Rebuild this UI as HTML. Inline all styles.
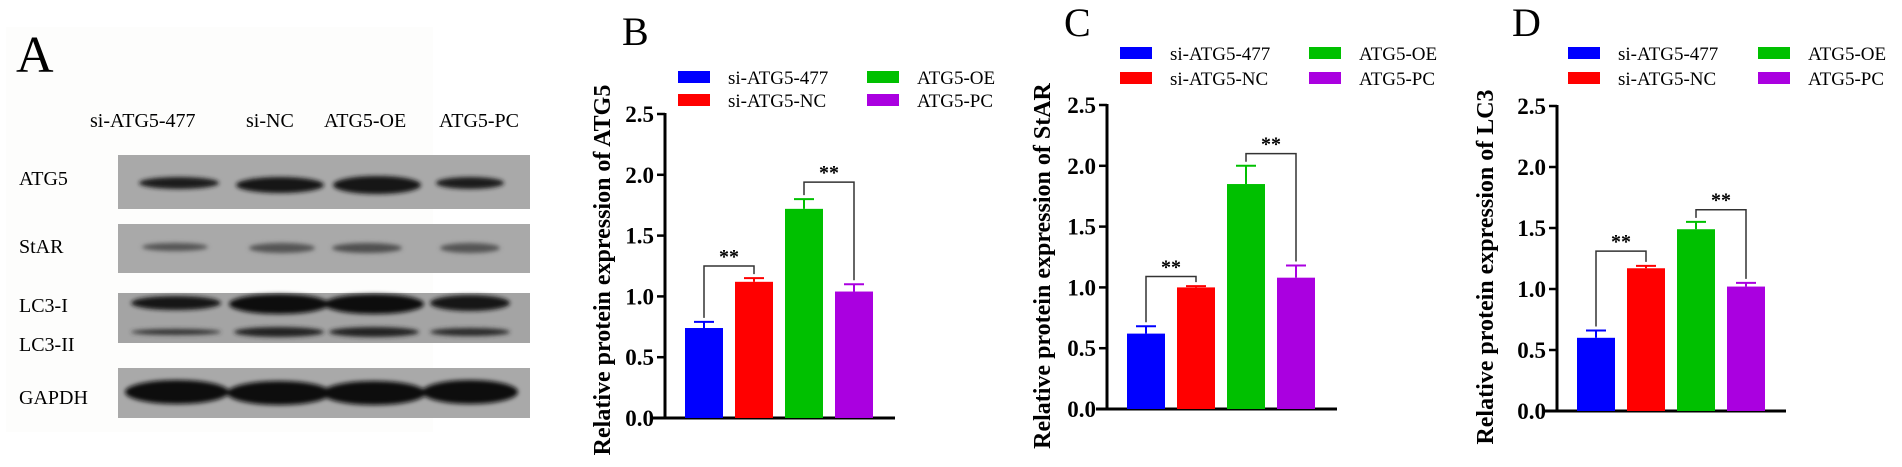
<!DOCTYPE html>
<html><head><meta charset="utf-8"><style>
html,body{margin:0;padding:0;background:#fff;}
svg{display:block;font-family:"Liberation Serif",serif;}
</style></head><body>
<svg id="fig" width="1902" height="467" viewBox="0 0 1902 467">
<defs><filter id="blur"><feGaussianBlur stdDeviation="2"/></filter></defs>
<g>
<rect x="6" y="27" width="427" height="405" fill="#fdfdfc"/>
<text x="16" y="72" font-size="52">A</text>
<g font-size="20">
<text x="90" y="127">si-ATG5-477</text>
<text x="246" y="127">si-NC</text>
<text x="324" y="127">ATG5-OE</text>
<text x="439" y="127">ATG5-PC</text>
</g>
<g font-size="20">
<text x="19" y="185">ATG5</text>
<text x="19" y="253">StAR</text>
<text x="19" y="312">LC3-I</text>
<text x="19" y="351">LC3-II</text>
<text x="19" y="404">GAPDH</text>
</g>
<rect x="118" y="155" width="412" height="54" fill="#a9a9a9"/>
<rect x="118" y="224" width="412" height="49" fill="#a9a9a9"/>
<rect x="118" y="293" width="412" height="50" fill="#a4a4a4"/>
<rect x="118" y="368" width="412" height="50" fill="#a9a9a9"/>
<g filter="url(#blur)">
<ellipse cx="179" cy="183" rx="40" ry="6" fill="#1a1a1a"/><ellipse cx="280" cy="185" rx="44" ry="8" fill="#151515"/><ellipse cx="377" cy="185" rx="44" ry="9" fill="#151515"/><ellipse cx="470" cy="183" rx="34" ry="6" fill="#1a1a1a"/>
<ellipse cx="175" cy="247" rx="33" ry="4" fill="#555"/><ellipse cx="282" cy="248" rx="33" ry="5" fill="#555"/><ellipse cx="367" cy="248" rx="35" ry="5" fill="#505050"/><ellipse cx="470" cy="248" rx="30" ry="5" fill="#555"/>
<ellipse cx="176" cy="303" rx="45" ry="7" fill="#151515"/><ellipse cx="279" cy="304" rx="50" ry="10" fill="#111"/><ellipse cx="374" cy="304" rx="50" ry="10" fill="#111"/><ellipse cx="470" cy="303" rx="40" ry="8" fill="#151515"/>
<ellipse cx="176" cy="332" rx="45" ry="3" fill="#333"/><ellipse cx="279" cy="332" rx="45" ry="5" fill="#222"/><ellipse cx="374" cy="332" rx="45" ry="5" fill="#222"/><ellipse cx="470" cy="332" rx="40" ry="4" fill="#2a2a2a"/>
<ellipse cx="177" cy="392" rx="52" ry="12" fill="#111"/><ellipse cx="279" cy="393" rx="52" ry="12" fill="#111"/><ellipse cx="374" cy="393" rx="52" ry="12" fill="#111"/><ellipse cx="470" cy="392" rx="48" ry="12" fill="#111"/>
</g>
</g>
<g id="charts"></g>
</svg>
<script>
const categories = ["si-ATG5-477","si-ATG5-NC","ATG5-OE","ATG5-PC"];
const colors = ["#0000ff","#ff0000","#00c000","#aa00e0"];
const yTicks = [0,0.5,1.0,1.5,2.0,2.5];
const valuesB = [0.74,1.12,1.72,1.04];
const errorsB = [0.05,0.03,0.08,0.06];
const valuesC = [0.62,1.00,1.85,1.08];
const errorsC = [0.06,0.01,0.15,0.10];
const valuesD = [0.60,1.17,1.49,1.02];
const errorsD = [0.06,0.02,0.06,0.03];
const bracketsB = [1.25,1.94];
const bracketsC = [1.09,2.10];
const bracketsD = [1.31,1.65];
const panels = [
 {id:"b",letter:"B",title:"Relative protein expression of ATG5",vals:valuesB,errs:errorsB,br:bracketsB,ax:665,y0:418,top:114,xl:653,xr:895,lx:[678,867],ly:[77,100],letX:622,letY:45,tx:600,tc:270},
 {id:"c",letter:"C",title:"Relative protein expression of StAR",vals:valuesC,errs:errorsC,br:bracketsC,ax:1107,y0:409,top:105,xl:1096,xr:1337,lx:[1120,1309],ly:[53,78],letX:1064,letY:36,tx:1040,tc:266},
 {id:"d",letter:"D",title:"Relative protein expression of LC3",vals:valuesD,errs:errorsD,br:bracketsD,ax:1557,y0:411,top:106,xl:1544,xr:1786,lx:[1568,1758],ly:[53,78],letX:1512,letY:36,tx:1483,tc:267}
];
const NS="http://www.w3.org/2000/svg";
const root=document.getElementById('charts');
function mk(tag,attrs,parent,text){const e=document.createElementNS(NS,tag);for(const k in attrs)e.setAttribute(k,attrs[k]);if(text!==undefined)e.textContent=text;parent.appendChild(e);return e;}
panels.forEach(p=>{
 const g=mk('g',{},root);
 
 
 const y=v=>p.y0-(v/2.5)*(p.y0-p.top);
 const xb=i=>p.ax+20+i*50;
 const bw=38;
 const L=mk('text',{x:p.letX,y:p.letY,'font-size':40},g,p.letter);
 
 
 categories.forEach((c,i)=>{
  const col=Math.floor(i/2), row=i%2;
  const sx=p.lx[col], sy=p.ly[row];
  const sw=mk('rect',{x:sx,y:sy-6,width:32,height:12,fill:colors[i]},g);
  
  
  const t=mk('text',{x:sx+50,y:sy+7,'font-size':19},g,c);
  
  
 });
 yTicks.forEach(v=>{
  const tk=mk('line',{x1:p.ax-8,x2:p.ax,y1:y(v),y2:y(v),stroke:'#000','stroke-width':2.5},g);
  
  
  const tl=mk('text',{x:p.ax-11,y:y(v)+8,'font-size':23,'font-weight':'bold','text-anchor':'end'},g,v.toFixed(1));
  
  
 });
 const ya=mk('line',{x1:p.ax,x2:p.ax,y1:p.top-1,y2:p.y0,stroke:'#000','stroke-width':3},g);
 
 
 const xa=mk('line',{x1:p.xl,x2:p.xr,y1:p.y0,y2:p.y0,stroke:'#000','stroke-width':3},g);
 
 
 const yt=mk('text',{x:0,y:0,'font-size':24,'font-weight':'bold','text-anchor':'middle',transform:`translate(${p.tx+10},${p.tc}) rotate(-90)`},g,p.title);
 
 
 p.vals.forEach((v,i)=>{
  const b=mk('rect',{x:xb(i),y:y(v),width:bw,height:p.y0-y(v),fill:colors[i]},g);
  
  
  const cx=xb(i)+bw/2, et=y(v+p.errs[i]);
  const e1=mk('line',{x1:cx,x2:cx,y1:y(v),y2:et,stroke:colors[i],'stroke-width':2},g);
  
  
  const e2=mk('line',{x1:cx-10,x2:cx+10,y1:et,y2:et,stroke:colors[i],'stroke-width':2},g);
  
  
 });
 [[0,1],[2,3]].forEach((pr,k)=>{
  const by=y(p.br[k]);
  const a=pr[0],b=pr[1];
  const xa1=xb(a)+bw/2, xb1=xb(b)+bw/2;
  const ya1=y(p.vals[a]+p.errs[a])-4, yb1=y(p.vals[b]+p.errs[b])-4;
  const br=mk('polyline',{points:`${xa1},${ya1} ${xa1},${by} ${xb1},${by} ${xb1},${yb1}`,fill:'none',stroke:'#333','stroke-width':1.5},g);
  
  
  const st=mk('text',{x:(xa1+xb1)/2,y:by-3,'font-size':20,'font-weight':'bold','text-anchor':'middle'},g,'**');
  
  
 });
});
</script>
</body></html>
